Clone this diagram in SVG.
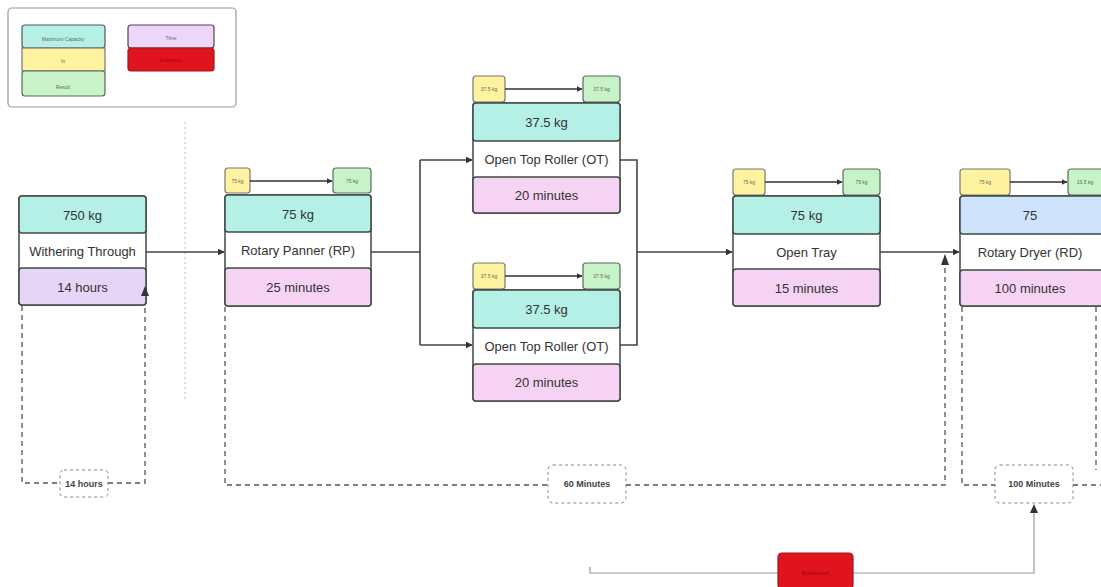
<svg xmlns="http://www.w3.org/2000/svg" width="1101" height="587" viewBox="0 0 1101 587">
  <defs>
    <marker id="ah" viewBox="0 0 10 10" refX="9" refY="5" markerWidth="7" markerHeight="7" orient="auto" markerUnits="userSpaceOnUse">
      <path d="M0,0 L10,5 L0,10 z" fill="#333"/>
    </marker>
    <marker id="ahs" viewBox="0 0 10 10" refX="9" refY="5" markerWidth="6" markerHeight="6" orient="auto" markerUnits="userSpaceOnUse">
      <path d="M0,0 L10,5 L0,10 z" fill="#333"/>
    </marker>
  </defs>
  <style>
    text { font-family: "Liberation Sans", Arial, sans-serif; fill: #333; text-anchor: middle; dominant-baseline: central; }
    .big { font-size: 13px; }
    .tiny { font-size: 5px; fill: #666; }
    .lbl { font-size: 9px; font-weight: bold; fill: #444; }
    .box { stroke: #3f4a45; stroke-width: 1.5; }
    .cap { fill: #b4f0e6; }
    .cap2 { fill: #cfe2fb; }
    .mid { fill: #ffffff; }
    .time { fill: #f7d3f3; }
    .wtime { fill: #e7d5f7; }
    .in { fill: #fff3a0; stroke: #777; stroke-width: 1.2; }
    .res { fill: #c8f2c8; stroke: #5a6b5e; stroke-width: 1.2; }
    .red { fill: #e0141e; stroke: #9b1a1a; stroke-width: 1.2; }
    .flow { fill: none; stroke: #444; stroke-width: 1.6; }
    .tagflow { fill: none; stroke: #333; stroke-width: 1.4; }
    .dash { fill: none; stroke: #555; stroke-width: 1.3; stroke-dasharray: 5 4; }
    .dbox { fill: #fff; stroke: #888; stroke-width: 1; stroke-dasharray: 3 3; }
    .solid { fill: none; stroke: #999; stroke-width: 1.2; }
  </style>

  <rect width="1101" height="587" fill="#ffffff"/>

  <!-- legend -->
  <g id="legend">
    <rect x="8" y="8" width="228" height="99" rx="4" fill="#fff" stroke="#999" stroke-width="1.2"/>
    <rect x="22" y="25" width="83" height="23" rx="3" class="cap" stroke="#4d5b55" stroke-width="1.2"/>
    <rect x="22" y="48" width="83" height="23" class="in"/>
    <rect x="22" y="71" width="83" height="25" rx="3" class="res"/>
    <text x="63" y="39" class="tiny">Maximum Capacity</text>
    <text x="63" y="61" class="tiny">In</text>
    <text x="63" y="87" class="tiny">Result</text>
    <rect x="128" y="25" width="86" height="23" rx="3" fill="#ecd6fa" stroke="#4d4550" stroke-width="1.2"/>
    <rect x="128" y="48" width="86" height="23" rx="3" class="red"/>
    <text x="171" y="38" class="tiny">Time</text>
    <text x="171" y="60" class="tiny" style="fill:#b00">Bottleneck</text>
  </g>

  <!-- divider -->
  <line x1="185" y1="122" x2="185" y2="402" stroke="#bbb" stroke-width="1" stroke-dasharray="2 3"/>

  <!-- duration labels -->
  <g id="label-14h">
    <rect x="60" y="470" width="48" height="27" rx="4" class="dbox"/>
    <text x="84" y="483.5" class="lbl">14 hours</text>
  </g>
  <g id="label-60m">
    <rect x="548" y="465" width="78" height="38" rx="5" class="dbox"/>
    <text x="587" y="484" class="lbl">60 Minutes</text>
  </g>
  <g id="label-100m">
    <rect x="995" y="465" width="78" height="38" rx="5" class="dbox"/>
    <text x="1034" y="484" class="lbl">100 Minutes</text>
  </g>

  <!-- withering -->
  <g id="withering">
    <rect x="19" y="196" width="127" height="109" rx="3" class="mid box"/>
    <rect x="19" y="196" width="127" height="37" rx="3" class="cap box"/>
    <rect x="19" y="268" width="127" height="37" rx="3" class="wtime box"/>
    <text x="82.5" y="215" class="big">750 kg</text>
    <text x="82.5" y="251" class="big">Withering Through</text>
    <text x="82.5" y="287" class="big">14 hours</text>
  </g>

  <!-- rotary panner -->
  <g id="rotary-panner">
    <rect x="225" y="168" width="25" height="25" rx="3" class="in"/>
    <rect x="333" y="168" width="38" height="25" rx="3" class="res"/>
    <text x="237.5" y="181" class="tiny">75 kg</text>
    <text x="352" y="181" class="tiny">75 kg</text>
    <rect x="225" y="195" width="146" height="111" rx="3" class="mid box"/>
    <rect x="225" y="195" width="146" height="37" rx="3" class="cap box"/>
    <rect x="225" y="268" width="146" height="38" rx="3" class="time box"/>
    <text x="298" y="214" class="big">75 kg</text>
    <text x="298" y="250" class="big">Rotary Panner (RP)</text>
    <text x="298" y="287" class="big">25 minutes</text>
  </g>

  <!-- open top roller, upper -->
  <g id="otr-upper">
    <rect x="473" y="76" width="32" height="26" rx="3" class="in"/>
    <rect x="583" y="76" width="37" height="26" rx="3" class="res"/>
    <text x="489" y="89" class="tiny">37.5 kg</text>
    <text x="601.5" y="89" class="tiny">37.5 kg</text>
    <rect x="473" y="103" width="147" height="110" rx="3" class="mid box"/>
    <rect x="473" y="103" width="147" height="38" rx="3" class="cap box"/>
    <rect x="473" y="177" width="147" height="36" rx="3" class="time box"/>
    <text x="546.5" y="122" class="big">37.5 kg</text>
    <text x="546.5" y="159" class="big">Open Top Roller (OT)</text>
    <text x="546.5" y="195" class="big">20 minutes</text>
  </g>

  <!-- open top roller, lower -->
  <g id="otr-lower">
    <rect x="473" y="263" width="32" height="26" rx="3" class="in"/>
    <rect x="583" y="263" width="37" height="26" rx="3" class="res"/>
    <text x="489" y="276" class="tiny">37.5 kg</text>
    <text x="601.5" y="276" class="tiny">37.5 kg</text>
    <rect x="473" y="290" width="147" height="111" rx="3" class="mid box"/>
    <rect x="473" y="290" width="147" height="38" rx="3" class="cap box"/>
    <rect x="473" y="364" width="147" height="37" rx="3" class="time box"/>
    <text x="546.5" y="309" class="big">37.5 kg</text>
    <text x="546.5" y="346" class="big">Open Top Roller (OT)</text>
    <text x="546.5" y="382" class="big">20 minutes</text>
  </g>

  <!-- open tray -->
  <g id="open-tray">
    <rect x="733" y="169" width="32" height="26" rx="3" class="in"/>
    <rect x="843" y="169" width="37" height="26" rx="3" class="res"/>
    <text x="749" y="182" class="tiny">75 kg</text>
    <text x="861.5" y="182" class="tiny">75 kg</text>
    <rect x="733" y="196" width="147" height="110" rx="3" class="mid box"/>
    <rect x="733" y="196" width="147" height="38" rx="3" class="cap box"/>
    <rect x="733" y="269" width="147" height="37" rx="3" class="time box"/>
    <text x="806.5" y="215" class="big">75 kg</text>
    <text x="806.5" y="252" class="big">Open Tray</text>
    <text x="806.5" y="288" class="big">15 minutes</text>
  </g>

  <!-- rotary dryer -->
  <g id="rotary-dryer">
    <rect x="960" y="169" width="50" height="26" rx="3" class="in"/>
    <rect x="1068" y="169" width="40" height="26" rx="3" class="res"/>
    <text x="985" y="182" class="tiny">75 kg</text>
    <text x="1085" y="182" class="tiny">19.5 kg</text>
    <rect x="960" y="196" width="150" height="110" rx="3" class="mid box"/>
    <rect x="960" y="196" width="150" height="38" rx="3" class="cap2 box"/>
    <rect x="960" y="270" width="150" height="36" rx="3" class="time box"/>
    <text x="1030" y="215" class="big">75</text>
    <text x="1030" y="252" class="big">Rotary Dryer (RD)</text>
    <text x="1030" y="288" class="big">100 minutes</text>
  </g>

  <!-- connectors, drawn after the nodes so the heads sit on top -->
  <g id="connectors">
    <path class="flow" d="M146,252 H224" marker-end="url(#ah)"/>
    <path class="flow" d="M371,252 H420 M420,160 V345"/>
    <path class="flow" d="M420,160 H472" marker-end="url(#ah)"/>
    <path class="flow" d="M420,345 H472" marker-end="url(#ah)"/>
    <path class="flow" d="M620,160 H637 V345 H620"/>
    <path class="flow" d="M637,252 H732" marker-end="url(#ah)"/>
    <path class="flow" d="M880,252 H959" marker-end="url(#ah)"/>
    <!-- in to result arrows -->
    <path class="tagflow" d="M250,181 H332" marker-end="url(#ahs)"/>
    <path class="tagflow" d="M505,89 H582" marker-end="url(#ahs)"/>
    <path class="tagflow" d="M505,276 H582" marker-end="url(#ahs)"/>
    <path class="tagflow" d="M765,182 H842" marker-end="url(#ahs)"/>
    <path class="tagflow" d="M1010,182 H1067" marker-end="url(#ahs)"/>
    <!-- duration spans -->
    <path class="dash" d="M22,306 V483 H60 M108,483 H145 V306"/>
    <path d="M145,286 L141,296 L149,296 z" fill="#333"/>
    <path class="dash" d="M225,307 V485 H548 M626,485 H945 V262"/>
    <path d="M945,254 L941,265 L949,265 z" fill="#333"/>
    <path class="dash" d="M962,307 V485 H995 M1073,485 H1101"/>
    <path class="dash" d="M1096,307 V470"/>
    <!-- bottleneck link -->
    <path class="solid" d="M590,567 V573 H1034 V510"/>
    <path d="M1034,504 L1030,513 L1038,513 z" fill="#333"/>
  </g>

  <!-- bottleneck marker, sits over its link line -->
  <g id="bottleneck">
    <rect x="778" y="553" width="75" height="36" rx="4" class="red"/>
    <text x="815.5" y="573" class="tiny" style="fill:#a00;font-size:6px">Bottleneck</text>
  </g>
</svg>
